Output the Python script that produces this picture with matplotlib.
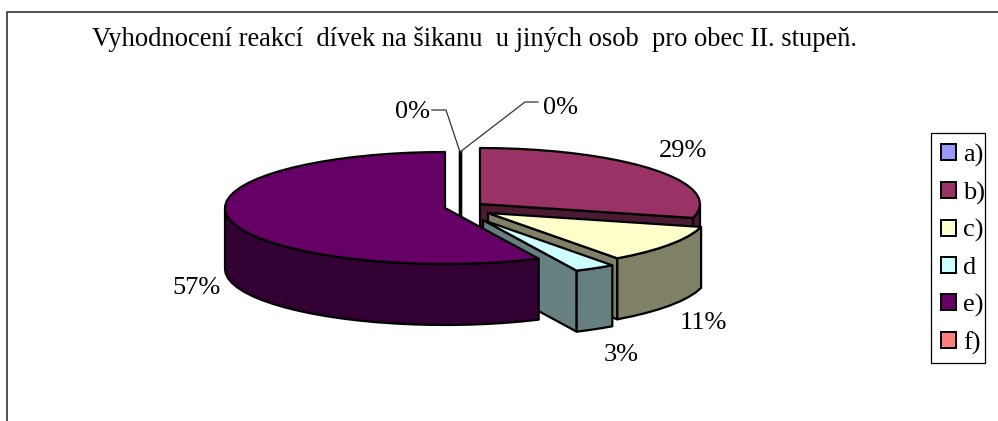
import matplotlib
matplotlib.use('Agg')
import matplotlib.pyplot as plt
from matplotlib.patches import Polygon, Patch, Rectangle
import numpy as np

plt.rcParams['font.family'] = ['Liberation Serif', 'DejaVu Serif']

title = 'Vyhodnocení reakcí  dívek na šikanu  u jiných osob  pro obec II. stupeň.'
categories = ['a)', 'b)', 'c)', 'd', 'e)', 'f)']
values = [0, 29, 11, 3, 57, 0]

top_colors = ['#9999FF', '#993366', '#FFFFCC', '#CCFFFF', '#660066', '#FF8080']
side_colors = ['#4D4D80', '#4D1A33', '#808066', '#668080', '#330033', '#804040']

# apex of each slice in pixels, slices were pulled out by hand in the original
apex = {'a)': (460, 208), 'b)': (480, 204), 'c)': (488, 213),
        'd': (483, 220), 'e)': (445, 208), 'f)': (460, 208)}
label_pos = {'a)': (561, 108), 'b)': (683, 151), 'c)': (703, 323),
             'd': (621, 355), 'e)': (197, 288), 'f)': (413, 112)}

rx = 220
ry = 56
depth = 61

def rim(ap, deg):
    t = np.radians(deg)
    return ap[0] + rx * np.sin(t), ap[1] - ry * np.cos(t)

def arc(ap, d0, d1):
    degs = np.linspace(d0, d1, max(2, int(abs(d1 - d0) / 5) + 2))
    return [rim(ap, d) for d in degs]

def down(points):
    return [(x, y + depth) for x, y in points]

def poly(ax, points, color):
    ax.add_patch(Polygon(points, closed=True, facecolor=color, edgecolor='black',
                         lw=1.6, joinstyle='round', zorder=2))

fig = plt.figure(figsize=(9.98, 4.21), dpi=100)
ax = fig.add_axes([0, 0, 1, 1])
ax.set_xlim(0, 998)
ax.set_ylim(421, 0)
ax.axis('off')

# chart frame, right and bottom side are cut off
ax.plot([7, 7, 998], [421, 12, 12], color='#333333', lw=1.2)

ends = np.cumsum(values) / sum(values) * 360
starts = ends - np.array(values) / sum(values) * 360

# zero slices show up only as a thick line, behind the big slice
for i in [0, 5]:
    ap = apex[categories[i]]
    ax.plot([ap[0], ap[0]], [ap[1] - ry, ap[1] + depth], color='black', lw=2.4, zorder=1)

for i in [1, 2, 3, 4]:
    ap = apex[categories[i]]
    d0, d1 = starts[i], ends[i]
    # cut face on the end of the slice
    if d1 < 180:
        edge = [ap, rim(ap, d1)]
        poly(ax, edge + down(edge)[::-1], side_colors[i])
    # outer wall, only the part turned to the viewer
    w0, w1 = max(d0, 90), min(d1, 270)
    if w1 > w0:
        wall = arc(ap, w0, w1)
        poly(ax, wall + down(wall)[::-1], side_colors[i])
    poly(ax, [ap] + arc(ap, d0, d1), top_colors[i])

# leader lines of the 0% labels
ax.plot([432, 446, 460], [110, 110, 152], color='#333333', lw=0.9, zorder=1)
ax.plot([538, 525, 460], [102, 102, 152], color='#333333', lw=0.9, zorder=1)

for c, v in zip(categories, values):
    x, y = label_pos[c]
    ax.text(x, y, f'{v}%', fontsize=19, ha='center', va='center', color='black')

ax.text(92, 39.5, title, fontsize=19.1, ha='left', va='center', color='black')

# legend box is narrower than its text needs, so the frame is separate
ax.add_patch(Rectangle((931.5, 133), 53.5, 230, facecolor='white', edgecolor='black',
                       lw=0.9, zorder=3))
handles = [Patch(facecolor=col, edgecolor='black', lw=1.4) for col in top_colors]
leg = ax.legend(handles, categories, loc='upper left', bbox_to_anchor=(941, 144),
                bbox_transform=ax.transData, fontsize=19, frameon=False,
                borderpad=0, labelspacing=0.55, handlelength=0.55, handleheight=0.55,
                handletextpad=0.3, borderaxespad=0)
leg.set_zorder(4)

fig.savefig('out.png', dpi=100)
